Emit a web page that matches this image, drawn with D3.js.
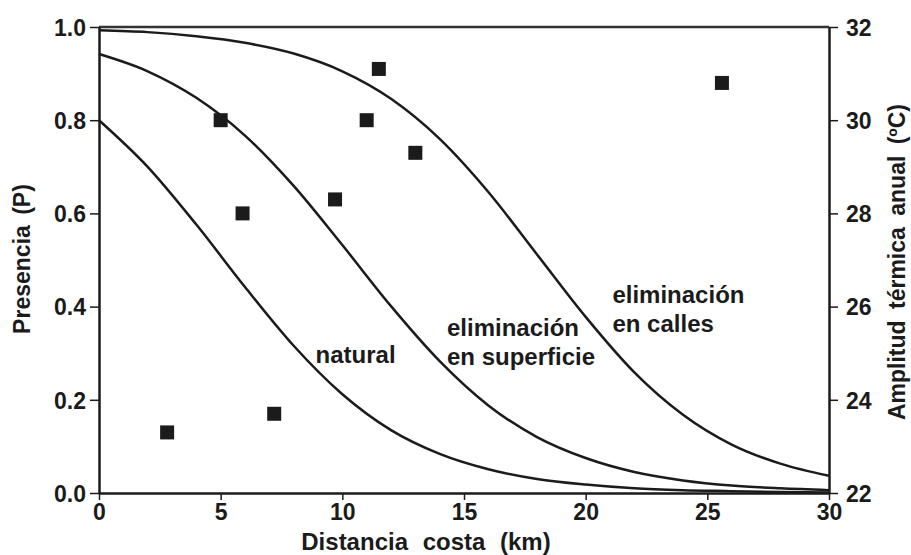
<!DOCTYPE html>
<html>
<head>
<meta charset="utf-8">
<script src="https://cdn.jsdelivr.net/npm/d3@7"></script>
<style>
	body { margin: 0; background: #fff; }
	svg { display: block; font-family: "Liberation Sans", Arial, sans-serif; font-weight: bold; }
</style>
</head>
<body>
<svg width="911" height="555"></svg>
<script>
/**
 * Presencia vs distancia a la costa
 */

var distKm = [0, 2, 4, 6, 8, 10, 12, 14, 16, 18, 20, 22, 24, 26, 28, 30]
var pNatural = [0.800, 0.700, 0.576, 0.442, 0.316, 0.212, 0.135, 0.084, 0.051, 0.030, 0.018, 0.010, 0.006, 0.004, 0.002, 0.001]
var pSuperficie = [0.942, 0.905, 0.848, 0.767, 0.659, 0.532, 0.401, 0.283, 0.188, 0.120, 0.075, 0.045, 0.027, 0.016, 0.010, 0.006]
var pCalles = [0.993, 0.989, 0.980, 0.966, 0.943, 0.905, 0.846, 0.760, 0.646, 0.512, 0.378, 0.259, 0.168, 0.104, 0.063, 0.037]

var stationKm = [2.8, 5.0, 5.9, 7.2, 9.7, 11.0, 11.5, 13.0, 25.6]
var stationAmp = [23.3, 30.0, 28.0, 23.7, 28.3, 30.0, 31.1, 29.3, 30.8]

var xTicks = [0, 5, 10, 15, 20, 25, 30]
var pTicks = [0.0, 0.2, 0.4, 0.6, 0.8, 1.0]
var ampTicks = [22, 24, 26, 28, 30, 32]

var curveLabels = [
	{ lines: ["natural"], x: 8.9, p: 0.280 },
	{ lines: ["eliminación", "en superficie"], x: 14.3, p: 0.336 },
	{ lines: ["eliminación", "en calles"], x: 21.1, p: 0.407 }
]

var ink = "#1b1b1b"
var plotLeft = 99, plotRight = 829, plotTop = 27, plotBottom = 493

var svg = d3.select("svg")

var x = d3.scaleLinear().domain([0, 30]).range([plotLeft, plotRight])
var yP = d3.scaleLinear().domain([0, 1]).range([plotBottom, plotTop])
var yT = d3.scaleLinear().domain([22, 32]).range([plotBottom, plotTop])

function styleAxis(g) {
	g.selectAll(".domain").attr("stroke", ink).attr("stroke-width", 2.5)
	g.selectAll(".tick line").attr("stroke", ink).attr("stroke-width", 1.5)
	g.selectAll(".tick text").attr("fill", ink).style("font-size", "23px")
		.style("font-family", "'Liberation Sans', Arial, sans-serif")
		.style("font-weight", "bold")
}

// frame top
svg.append("line").attr("x1", plotLeft).attr("x2", plotRight)
	.attr("y1", plotTop).attr("y2", plotTop)
	.attr("stroke", "#333").attr("stroke-width", 2.5)

svg.append("g").attr("transform", "translate(0," + plotBottom + ")")
	.call(d3.axisBottom(x).tickValues(xTicks).tickSize(7).tickSizeOuter(0).tickPadding(4))
	.call(styleAxis)

svg.append("g").attr("transform", "translate(" + plotLeft + ",0)")
	.call(d3.axisLeft(yP).tickValues(pTicks).tickFormat(d3.format(".1f")).tickSize(9).tickSizeOuter(0).tickPadding(4))
	.call(styleAxis)
	.selectAll(".tick text").attr("dy", "0.36em")

svg.append("g").attr("transform", "translate(" + plotRight + ",0)")
	.call(d3.axisRight(yT).tickValues(ampTicks).tickSize(9).tickSizeOuter(0).tickPadding(8))
	.call(styleAxis)
	.selectAll(".tick text").attr("dy", "0.36em")

// curves
var line = d3.line()
	.x(function(d, i) { return x(distKm[i]) })
	.y(function(d) { return yP(d) })
	.curve(d3.curveMonotoneX)

svg.selectAll("path.curve").data([pNatural, pSuperficie, pCalles]).enter()
	.append("path").attr("class", "curve")
	.attr("d", line)
	.attr("fill", "none").attr("stroke", ink).attr("stroke-width", 2.5)

// points
var sq = 14
svg.selectAll("rect.station").data(stationKm).enter()
	.append("rect").attr("class", "station")
	.attr("x", function(d) { return x(d) - sq / 2 })
	.attr("y", function(d, i) { return yT(stationAmp[i]) - sq / 2 })
	.attr("width", sq).attr("height", sq)
	.attr("fill", ink)

// curve labels
curveLabels.forEach(function(lab) {
	var t = svg.append("text").attr("x", x(lab.x)).attr("y", yP(lab.p))
		.attr("fill", ink).style("font-size", "24px")
	lab.lines.forEach(function(s, k) {
		t.append("tspan").attr("x", x(lab.x)).attr("dy", k == 0 ? 0 : 29).text(s)
	})
})

// axis titles
svg.append("text").attr("x", 426).attr("y", 550).attr("text-anchor", "middle")
	.attr("fill", ink).style("font-size", "24px").style("word-spacing", "8px")
	.text("Distancia costa (km)")

svg.append("text").attr("transform", "translate(30," + 259 + ") rotate(-90)")
	.attr("text-anchor", "middle").attr("fill", ink)
	.style("font-size", "23px").style("word-spacing", "4px")
	.text("Presencia (P)")

svg.append("text").attr("transform", "translate(905," + 262 + ") rotate(-90)")
	.attr("text-anchor", "middle").attr("fill", ink)
	.style("font-size", "23px").style("word-spacing", "5px")
	.text("Amplitud térmica anual (ºC)")
</script>
</body>
</html>
